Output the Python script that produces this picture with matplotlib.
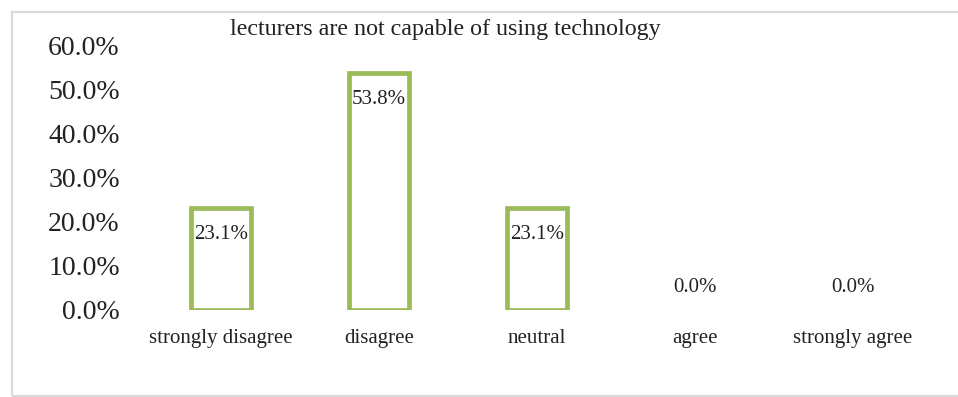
import matplotlib
matplotlib.use("Agg")
import matplotlib.pyplot as plt
from matplotlib.patches import Rectangle

categories = ["strongly disagree", "disagree", "neutral", "agree", "strongly agree"]
values = [23.1, 53.8, 23.1, 0.0, 0.0]
yticks = [0, 10, 20, 30, 40, 50, 60]
title = "lecturers are not capable of using technology"

plt.rcParams['font.family'] = ['Liberation Serif', 'DejaVu Serif']

fig = plt.figure(figsize=(9.58, 3.97), dpi=100)
ax = fig.add_axes([0.1482, 0.2204, 0.8247, 0.6642])

x = list(range(len(categories)))
# zero-height bars get no outline, like the original
edges = ['#9BBB59' if v > 0 else 'none' for v in values]
ax.bar(x, values, width=0.38, facecolor='white', edgecolor=edges, linewidth=3.4)

# data labels: inside the top for bars, above the base for zero
for xi, v in zip(x, values):
    if v > 0:
        ax.annotate("{:.1f}%".format(v), (xi, v), xytext=(0, -19), textcoords='offset points',
                    ha='center', va='center', fontsize=15, color='#222222')
    else:
        ax.annotate("{:.1f}%".format(v), (xi, v), xytext=(0, 16), textcoords='offset points',
                    ha='center', va='center', fontsize=15, color='#222222')

ax.set_xlim(-0.5, len(categories) - 0.5)
ax.set_ylim(0, 60)
ax.set_yticks(yticks)
ax.set_yticklabels(["{:.1f}%".format(t) for t in yticks], fontsize=20, color='#222222')
ax.set_xticks(x)
ax.set_xticklabels(categories, fontsize=15, color='#222222')
ax.tick_params(axis='y', length=0, pad=16)
ax.tick_params(axis='x', length=0, pad=14)
for s in ax.spines.values():
    s.set_visible(False)

fig.text(0.4645, 0.925, title, ha='center', va='center', fontsize=17.3, color='#222222')

# light frame around the chart
fig.patches.append(Rectangle((12 / 958, 1 / 397), 1.0, 384 / 397, transform=fig.transFigure,
                             fill=False, edgecolor='#D9D9D9', linewidth=1.5))

fig.savefig("out.png", dpi=100)
